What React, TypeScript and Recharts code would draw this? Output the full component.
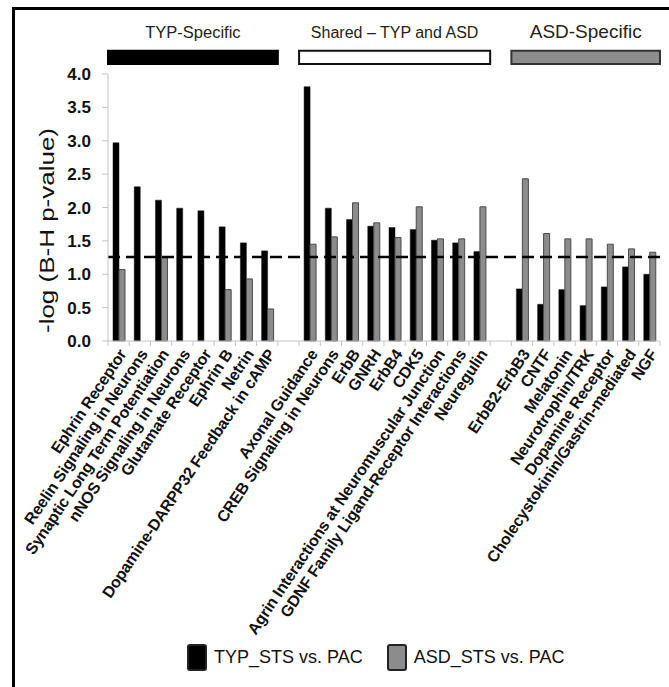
import { Bar, BarChart, Legend, ReferenceArea, ReferenceLine, XAxis, YAxis } from "recharts";

const FONT = "Arial, 'Liberation Sans', Helvetica, sans-serif";

const categories = [
  "Ephrin Receptor",
  "Reelin Signaling in Neurons",
  "Synaptic Long Term Potentiation",
  "nNOS Signaling in Neurons",
  "Glutamate Receptor",
  "Ephrin B",
  "Netrin",
  "Dopamine-DARPP32 Feedback in cAMP",
  " ",
  "Axonal Guidance",
  "CREB Signaling in Neurons",
  "ErbB",
  "GNRH",
  "ErbB4",
  "CDK5",
  "Agrin Interactions at Neuromuscular Junction",
  "GDNF Family Ligand-Receptor Interactions",
  "Neuregulin",
  "  ",
  "ErbB2-ErbB3",
  "CNTF",
  "Melatonin",
  "Neurotrophin/TRK",
  "Dopamine Receptor",
  "Cholecystokinin/Gastrin-mediated",
  "NGF",
];

const typValues = [
  2.97, 2.31, 2.11, 1.99, 1.95, 1.71, 1.47, 1.35, null,
  3.81, 1.99, 1.82, 1.72, 1.7, 1.67, 1.51, 1.47, 1.34, null,
  0.78, 0.55, 0.77, 0.53, 0.81, 1.11, 1.0,
];

const asdValues = [
  1.07, null, 1.25, null, null, 0.77, 0.93, 0.48, null,
  1.45, 1.56, 2.07, 1.77, 1.55, 2.01, 1.53, 1.53, 2.01, null,
  2.43, 1.61, 1.53, 1.53, 1.45, 1.38, 1.33,
];

const yTicks = [0, 0.5, 1, 1.5, 2, 2.5, 3, 3.5, 4];
const cutoff = 1.26;

const groups = [
  { label: "TYP-Specific", from: "Ephrin Receptor", to: "Dopamine-DARPP32 Feedback in cAMP", fill: "#000", stroke: "#000", size: 16.5 },
  { label: "Shared \u2013 TYP and ASD", from: "Axonal Guidance", to: "Neuregulin", fill: "#fff", stroke: "#111", size: 16 },
  { label: "ASD-Specific", from: "ErbB2-ErbB3", to: "NGF", fill: "#8c8c8c", stroke: "#333", size: 19 },
];

const data = categories.map((name, i) => ({ name, typ: typValues[i], asd: asdValues[i] }));

const axisColor = "#c4c4c4";

function CategoryTick(props: any) {
  const { x, y, payload, index } = props;
  const half = payload.offset ?? 0;
  const last = index === categories.length - 1;
  return (
    <g>
      <line x1={x - half} x2={x - half} y1={y} y2={y + 5} stroke={axisColor} />
      {last && <line x1={x + half} x2={x + half} y1={y} y2={y + 5} stroke={axisColor} />}
      <text
        transform={`translate(${x + 4},${y + 10}) rotate(-56)`}
        textAnchor="end"
        dominantBaseline="central"
        fontFamily={FONT}
        fontWeight="bold"
        fontSize={16}
        letterSpacing={-0.2}
        fill="#111"
      >
        {payload.value}
      </text>
    </g>
  );
}

function YLabel(props: any) {
  const { x, y, height } = props.viewBox;
  return (
    <text
      transform={`translate(${x + 47},${y + height / 2 + 23}) rotate(-90)`}
      textAnchor="middle"
      dominantBaseline="central"
      fontFamily={FONT}
      fontSize={20}
      fill="#111"
      textLength={205}
      lengthAdjust="spacingAndGlyphs"
    >
      -log (B-H p-value)
    </text>
  );
}

function LegendBox() {
  const item = (color: string, text: string) => (
    <span style={{ display: "flex", alignItems: "center", marginRight: 24 }}>
      <span style={{ display: "inline-block", width: 20, height: 27, background: color, border: "2px solid #222", borderRadius: 3, boxSizing: "border-box", marginRight: 7 }} />
      <span>{text}</span>
    </span>
  );
  return (
    <div style={{ display: "flex", alignItems: "center", fontFamily: FONT, fontSize: 18, color: "#111", whiteSpace: "nowrap" }}>
      {item("#000", "TYP_STS vs. PAC")}
      {item("#8c8c8c", "ASD_STS vs. PAC")}
    </div>
  );
}

export default function App() {
  return (
    <div style={{ position: "absolute", left: 0, top: 0, width: 669, height: 687, background: "#fff", overflow: "hidden" }}>
      <div style={{ position: "absolute", left: 12, top: 7, width: 720, height: 720, borderTop: "3px solid #000", borderLeft: "3px solid #000" }} />
      <div style={{ position: "absolute", left: 0, top: 0 }}>
        <BarChart width={669} height={687} data={data} margin={{ top: 74, right: 9, left: 0, bottom: 0 }} barGap={0} barSize={6}>
          <YAxis
            width={108}
            domain={[0, 4]}
            ticks={yTicks}
            tickFormatter={(v: number) => v.toFixed(1)}
            stroke={axisColor}
            tickSize={6}
            tickMargin={11}
            tick={{ fill: "#111", fontSize: 17, fontWeight: "bold", fontFamily: FONT }}
            label={<YLabel />}
          />
          <XAxis
            dataKey="name"
            interval={0}
            height={346}
            stroke={axisColor}
            tickLine={false}
            tickSize={0}
            tickMargin={0}
            tick={<CategoryTick />}
          />
          <ReferenceLine y={cutoff} stroke="#000" strokeWidth={2.5} strokeDasharray="12 6" />
          {groups.map((g) => (
            <ReferenceArea
              key={g.label}
              x1={g.from}
              x2={g.to}
              y1={4.15}
              y2={4.35}
              ifOverflow="visible"
              fill={g.fill}
              fillOpacity={1}
              stroke={g.stroke}
              strokeWidth={2}
              label={{ value: g.label, position: "top", offset: 13, fill: "#222", fontSize: g.size, fontFamily: FONT }}
            />
          ))}
          <Bar dataKey="typ" name="TYP_STS vs. PAC" fill="#000" stroke="#111" strokeWidth={0.5} isAnimationActive={false} />
          <Bar dataKey="asd" name="ASD_STS vs. PAC" fill="#8c8c8c" stroke="#4a4a4a" strokeWidth={1} isAnimationActive={false} />
          <Legend
            layout="horizontal"
            verticalAlign="middle"
            align="center"
            content={<LegendBox />}
            wrapperStyle={{ position: "absolute", left: 187, top: 644, width: "auto" }}
          />
        </BarChart>
      </div>
    </div>
  );
}
